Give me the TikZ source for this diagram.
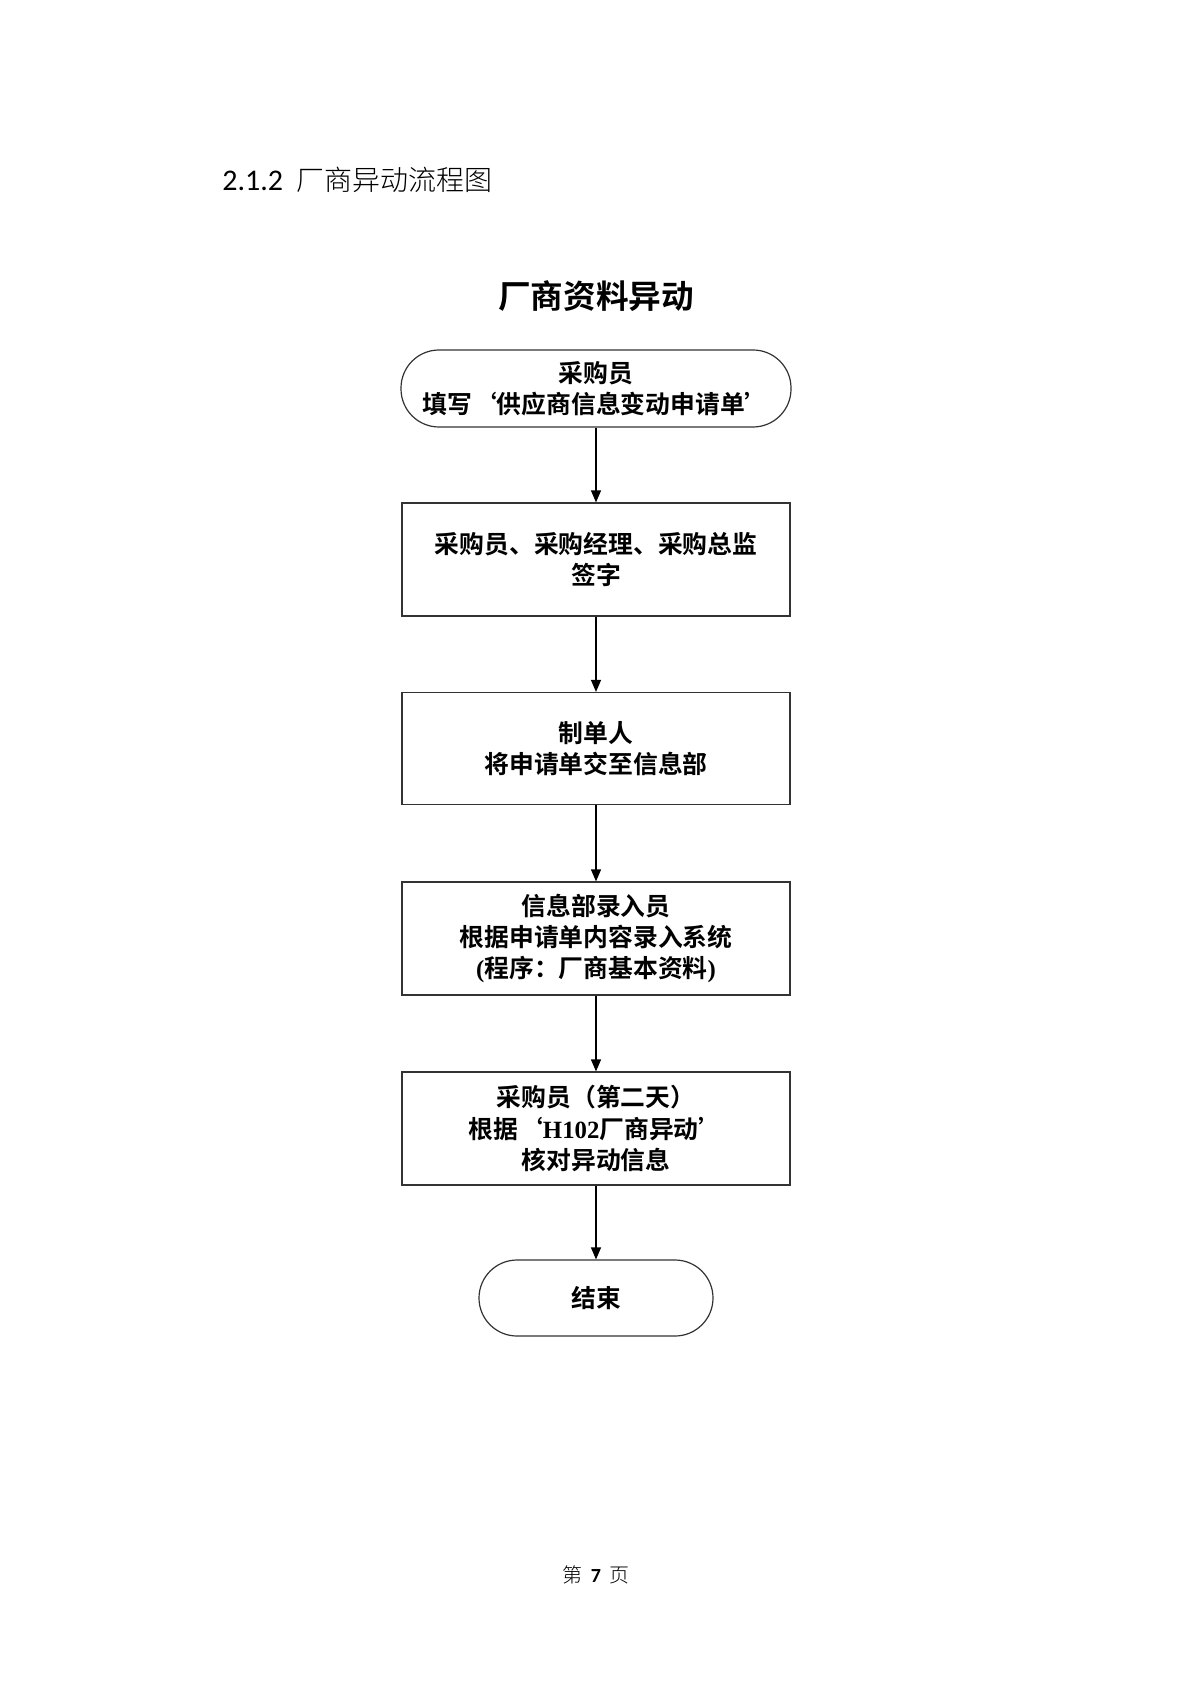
\documentclass[tikz,border=0pt]{standalone}
\usepackage{fontspec}
\usetikzlibrary{arrows.meta}
\newfontfamily\cjk{Noto Sans CJK SC}
\newfontfamily\cjkb{Noto Sans CJK SC Bold}
\newfontfamily\latb{Liberation Serif Bold}
\newfontfamily\headlat{Carlito}
\newfontfamily\cjkl{Noto Sans CJK SC Light}
\begin{document}
\begin{tikzpicture}[x=0.5pt,y=-0.5pt,
  box/.style={draw=black!80,line width=0.6pt,minimum width=194pt,minimum height=56.5pt,inner sep=0pt,align=center,font=\cjkb\fontsize{12.4pt}{15.6pt}\selectfont},
  term/.style={box,rounded corners=19pt,minimum height=38.5pt},
  conn/.style={draw=black,line width=0.6pt,-{Triangle[length=6pt,width=5pt]}}]
\path[use as bounding box,fill=white] (0,0) rectangle (1190,1684);
\node[anchor=west,inner sep=0pt,font=\fontsize{15pt}{18pt}\selectfont] (head) at (222,180) {\headlat 2.1.2\hspace{0.45em}{\cjkl\fontsize{14pt}{18pt}\selectfont 厂商异动流程图}};
\node[inner sep=0pt,font=\cjkb\fontsize{16.3pt}{19pt}\selectfont] (title) at (596,296) {厂商资料异动};
\node[term,minimum width=195pt] (n1) at (596,388.5) {采购员\\填写‘供应商信息变动申请单’};
\node[box] (n2) at (596,559.5) {采购员、采购经理、采购总监\\签字};
\node[box,minimum height=56pt] (n3) at (596,748.5) {制单人\\将申请单交至信息部};
\node[box] (n4) at (596,938.5) {信息部录入员\\根据申请单内容录入系统\\{\latb(}程序：厂商基本资料{\latb)}};
\node[box] (n5) at (596,1128.5) {采购员（第二天）\\根据‘{\latb H102}厂商异动’\\核对异动信息};
\node[term,minimum width=117pt,minimum height=38pt] (end) at (596,1298) {结束};
\node[inner sep=0pt,font=\cjkl\fontsize{10pt}{12pt}\selectfont] (foot) at (596,1575) {第\hspace{0.4em}{\headlat\bfseries 7}\hspace{0.4em}页};
\draw[conn] (n1) -- (n2);
\draw[conn] (n2) -- (n3);
\draw[conn] (n3) -- (n4);
\draw[conn] (n4) -- (n5);
\draw[conn] (n5) -- (end);
\end{tikzpicture}
\end{document}
